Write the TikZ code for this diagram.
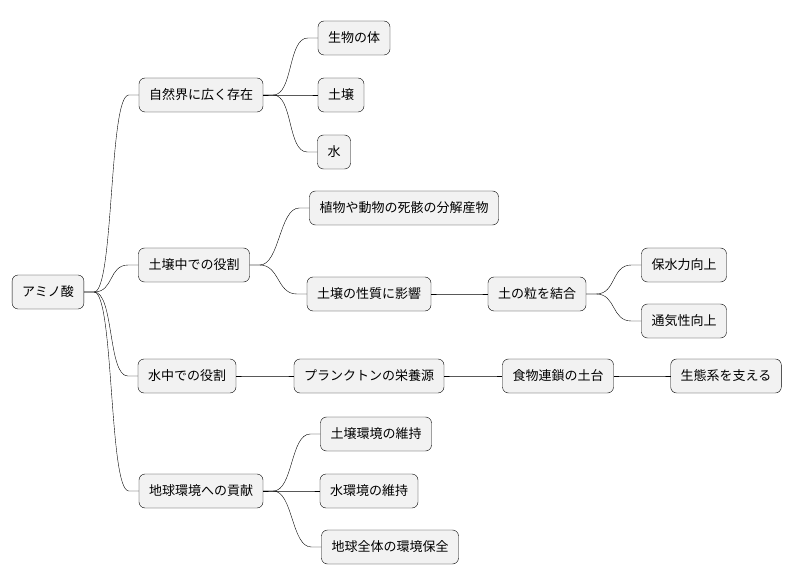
\documentclass[tikz,border=0pt]{standalone}
\usepackage{fontspec}
\setmainfont{Noto Sans CJK JP}
\begin{document}
\begin{tikzpicture}[x=1pt, y=-1pt,
        topic/.style={rectangle, draw, rounded corners=6pt, fill=gray!10, minimum height=34pt, inner xsep=10pt, font=\fontsize{13}{15}\selectfont},
        link/.style={thin}
    ]
        \useasboundingbox (0,0) rectangle (796,583);
        % Root
        \node[topic] (root) at (48,292) {アミノ酸};

        % Nature
        \node[topic] (nature) at (201,95) {自然界に広く存在};
        \node[topic] (body) at (354,38) {生物の体};
        \node[topic] (soil) at (341,95) {土壌};
        \node[topic] (water) at (334,152) {水};

        % Soil role
        \node[topic] (soilrole) at (194,265) {土壌中での役割};
        \node[topic] (decomp) at (404,208) {植物や動物の死骸の分解産物};
        \node[topic] (property) at (369,294) {土壌の性質に影響};
        \node[topic] (bind) at (537,294) {土の粒を結合};
        \node[topic] (retain) at (684,265) {保水力向上};
        \node[topic] (air) at (684,321) {通気性向上};

        % Water role
        \node[topic] (waterrole) at (187,376) {水中での役割};
        \node[topic] (plankton) at (369,376) {プランクトンの栄養源};
        \node[topic] (chain) at (558,376) {食物連鎖の土台};
        \node[topic] (eco) at (726,376) {生態系を支える};

        % Global
        \node[topic] (global) at (201,491) {地球環境への貢献};
        \node[topic] (soilenv) at (376,434) {土壌環境の維持};
        \node[topic] (waterenv) at (369,491) {水環境の維持};
        \node[topic] (earth) at (390,547) {地球全体の環境保全};

        \foreach \p/\c in {root/nature, root/soilrole, root/waterrole, root/global,
                nature/body, nature/soil, nature/water,
                soilrole/decomp, soilrole/property, property/bind,
                bind/retain, bind/air,
                waterrole/plankton, plankton/chain, chain/eco,
                global/soilenv, global/waterenv, global/earth}
            \draw[link] (\p.east) -- ++(10,0) .. controls +(20,0) and +(-20,0) .. ([xshift=-10pt]\c.west) -- (\c.west);
    \end{tikzpicture}
\end{document}
